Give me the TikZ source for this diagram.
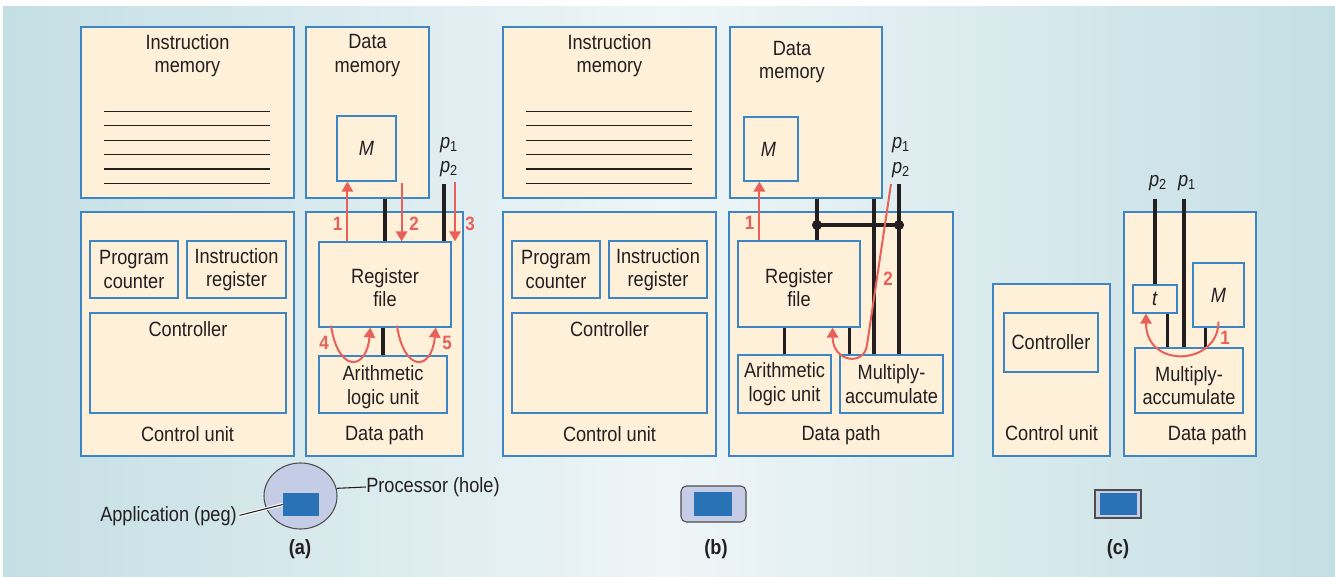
\documentclass[tikz,border=0pt]{standalone}
\usepackage{fontspec}
\setmainfont{Liberation Sans}[FakeStretch=0.88, BoldFont={Liberation Sans Bold}, ItalicFont={Liberation Sans Italic}]
\usepackage{tikz}
\usetikzlibrary{positioning,fit,calc,arrows.meta,shapes.geometric}

\definecolor{bgside}{HTML}{C4DFE4}
\definecolor{bgmid}{HTML}{EEF5F7}
\definecolor{boxfill}{HTML}{FFF0D9}
\definecolor{boxline}{HTML}{3D86C6}
\definecolor{flowred}{HTML}{E8605A}
\definecolor{ink}{HTML}{231F20}
\definecolor{holefill}{HTML}{C5CDE6}
\definecolor{pegblue}{HTML}{2A72B6}

\newcommand{\boxfont}{\fontsize{15.5}{17.5}\selectfont}
\newcommand{\numfont}{\bfseries\fontsize{14.5}{14.5}\selectfont}
\newcommand{\tagfont}{\bfseries\fontsize{15.5}{15.5}\selectfont}

\begin{document}
\begin{tikzpicture}[x=0.75pt, y=-0.75pt,
    unit/.style={draw=boxline, fill=boxfill, line width=0.9pt, inner sep=0pt},
    txt/.style={text=ink, font=\boxfont, align=center, inner sep=0pt},
    num/.style={text=flowred, font=\numfont, inner sep=0pt},
    bus/.style={draw=ink, line width=2.6pt},
    flow/.style={draw=flowred, line width=1.5pt, -{Triangle[length=7.5pt, width=8.5pt]}},
    listline/.style={draw=ink, line width=0.8pt},
    hole/.style={draw=ink!80, fill=holefill, line width=0.8pt, inner sep=0pt},
    peg/.style={fill=pegblue, inner sep=0pt},
    tag/.style={text=ink, font=\tagfont, inner sep=0pt}]

\useasboundingbox (0,0) rectangle (1335,577);
\shade[left color=bgside, right color=bgside, middle color=bgmid] (3,7) rectangle (1335,577);

% (a) general purpose processor
\node[unit, fit={(81,27) (294,198)}] (imemA) {};
\node[unit, fit={(306,27) (429,198)}] (dmemA) {};
\node[unit, fit={(337,116) (396,181)}] (mA) {};
\node[unit, fit={(81,212) (294,456)}] (cuA) {};
\node[unit, fit={(90,241) (178,298)}] (pcA) {};
\node[unit, fit={(187,241) (286,298)}] (irA) {};
\node[unit, fit={(90,313) (286,413)}] (ctrlA) {};
\node[unit, fit={(306,212) (463,456)}] (dpA) {};
\node[unit, fit={(319,242) (451,327)}] (rfA) {};
\node[unit, fit={(319,356) (447,413)}] (aluA) {};

\node[txt, below=6pt of imemA.north] (imemAT) {Instruction\\memory};
\node[txt, below=6pt of dmemA.north] (dmemAT) {Data\\memory};
\node[txt] (mAT) at (mA) {\textit{M}};
\node[txt] (pcAT) at (pcA) {Program\\counter};
\node[txt] (irAT) at (irA) {Instruction\\register};
\node[txt, below=6.5pt of ctrlA.north] (ctrlAT) {Controller};
\node[txt, anchor=base] (cuAT) at ([yshift=11.5pt]cuA.south) {Control unit};
\node[txt, yshift=-2.5pt] (rfAT) at (rfA) {Register\\file};
\node[txt, yshift=-2pt] (aluAT) at (aluA) {Arithmetic\\logic unit};
\node[txt, anchor=base] (dpAT) at ([yshift=12pt]dpA.south) {Data path};
\node[txt] (pA1) at (449,145) {\textit{p}\textsubscript{1}};
\node[txt] (pA2) at (449,169) {\textit{p}\textsubscript{2}};

\coordinate (busA) at (444,184);
\draw[bus] (rfA.north) -- (rfA.north |- dmemA.south);
\draw[bus] (busA) -- (busA |- rfA.north);
\draw[bus] (aluA.north) -- (aluA.north |- rfA.south);

\draw[flow] (rfA.north west) ++(29,0) coordinate (upA) -- (upA |- mA.south)
  node[num, pos=0.3, left=3pt] (n1A) {1};
\draw[flow] (mA.south east) ++(5,1) coordinate (dnA) -- (dnA |- rfA.north)
  node[num, pos=0.7, right=5pt] (n2A) {2};
\draw[flow] (busA) ++(11,-2) coordinate (inA) -- (inA |- rfA.north)
  node[num, pos=0.7, right=7pt] (n3A) {3};
\draw[flow] ([xshift=-40.5pt, yshift=1.5pt]rfA.south) .. controls +(7,47) and +(-4,44) .. ([xshift=-11pt]rfA.south);
\draw[flow] ([xshift=9pt, yshift=1.5pt]rfA.south) .. controls +(7,47) and +(-4,44) .. ([xshift=38pt]rfA.south);
\node[num] (n4A) at (324,343) {4};
\node[num] (n5A) at (447,343) {5};

% (b) processor with multiply-accumulate
\node[unit, fit={(503,27) (716,198)}] (imemB) {};
\node[unit, fit={(730,27) (882,198)}] (dmemB) {};
\node[unit, fit={(744,117) (798,181)}] (mB) {};
\node[unit, fit={(503,212) (716,456)}] (cuB) {};
\node[unit, fit={(512,241) (600,298)}] (pcB) {};
\node[unit, fit={(609,241) (707,298)}] (irB) {};
\node[unit, fit={(512,313) (707,413)}] (ctrlB) {};
\node[unit, fit={(729,212) (953,456)}] (dpB) {};
\node[unit, fit={(738,241) (860,327)}] (rfB) {};
\node[unit, fit={(738,355) (831,413)}] (aluB) {};
\node[unit, fit={(840,355) (943,413)}] (macB) {};

\foreach \m in {imemA,imemB}
  \foreach \k in {0,...,5}
    \draw[listline] (\m.north west) ++(24,{85+14.4*\k}) -- ++(166,0);

\node[txt, below=6pt of imemB.north] (imemBT) {Instruction\\memory};
\node[txt, below=11pt of dmemB.north, xshift=-10.5pt] (dmemBT) {Data\\memory};
\node[txt, xshift=-2pt] (mBT) at (mB) {\textit{M}};
\node[txt] (pcBT) at (pcB) {Program\\counter};
\node[txt] (irBT) at (irB) {Instruction\\register};
\node[txt, below=6.5pt of ctrlB.north] (ctrlBT) {Controller};
\node[txt, anchor=base] (cuBT) at ([yshift=11.5pt]cuB.south) {Control unit};
\node[txt, yshift=-2.5pt] (rfBT) at (rfB) {Register\\file};
\node[txt] (aluBT) at (aluB) {Arithmetic\\logic unit};
\node[txt] (macBT) at (macB) {Multiply-\\accumulate};
\node[txt, anchor=base] (dpBT) at ([yshift=12pt]dpB.south) {Data path};
\node[txt] (pB1) at (901,145) {\textit{p}\textsubscript{1}};
\node[txt] (pB2) at (901,170) {\textit{p}\textsubscript{2}};

\coordinate (busB) at (899,184);
\coordinate (jB1) at (817,225);
\coordinate (jB2) at (874,225);
\draw[bus] (jB1 |- dmemB.south) -- (jB1 |- rfB.north);
\draw[bus] (jB2 |- dmemB.south) -- (jB2 |- macB.north);
\draw[bus] (busB) -- (busB |- macB.north);
\draw[bus] (jB1) -- (busB |- jB1);
\fill[ink] (jB1) circle[radius=3.8pt] (busB |- jB1) circle[radius=3.8pt];
\draw[bus] (aluB.north) -- (aluB.north |- rfB.south);
\draw[bus] (macB.north west) ++(10,0) coordinate (rmB) -- (rmB |- rfB.south);

\draw[flow] (rfB.north west) ++(22,0) coordinate (upB) -- (upB |- mB.south)
  node[num, pos=0.3, left=3pt] (n1B) {1};
\draw[flow] (busB) ++(-8,0) -- (867,345) .. controls +(-3,22) and +(0,34) .. ([xshift=-21pt]rfB.south east);
\node[num] (n2B) at (888,279) {2};

% (c) application-specific processor
\node[unit, fit={(993,284) (1110,456)}] (cuC) {};
\node[unit, fit={(1004,313) (1098,372)}] (ctrlC) {};
\node[unit, fit={(1124,212) (1256,456)}] (dpC) {};
\node[unit, fit={(1133,285) (1177,313)}] (tC) {};
\node[unit, fit={(1193,263) (1244,327)}] (mC) {};
\node[unit, fit={(1135,348) (1243,413)}] (macC) {};

\node[txt] (ctrlCT) at (ctrlC) {Controller};
\node[txt] (tCT) at (tC) {\textit{t}};
\node[txt] (mCT) at (mC) {\textit{M}};
\node[txt, yshift=-4pt] (macCT) at (macC) {Multiply-\\accumulate};
\node[txt, anchor=base] (cuCT) at ([yshift=12pt]cuC.south) {Control unit};
\node[txt, anchor=base] (dpCT) at ([xshift=13pt, yshift=12pt]dpC.south) {Data path};
\node[txt] (pC2) at (1158,183) {\textit{p}\textsubscript{2}};
\node[txt] (pC1) at (1187,183) {\textit{p}\textsubscript{1}};

\coordinate (busC) at (1184,199);
\draw[bus] (tC.north) -- (tC.north |- busC);
\draw[bus] (busC) -- (busC |- macC.north);
\draw[bus] (tC.south east) ++(-10,0) coordinate (tmC) -- (tmC |- macC.north);
\draw[bus] (mC.south west) ++(13,0) coordinate (mmC) -- (mmC |- macC.north);
\draw[flow] ([yshift=4.5pt]mC.south) .. controls +(0,44) and +(0,56) .. ([xshift=-6.75pt]tC.south);
\node[num] (n1C) at (1225,338) {1};

% pegs and holes
\node[hole, ellipse, minimum width=54.75pt, minimum height=49.5pt] (holeA) at (300.5,496) {};
\node[peg, minimum width=27pt, minimum height=17.25pt] (pegA) at (301,504.5) {};
\node[txt, anchor=west] (procL) at (366,487) {Processor (hole)};
\node[txt, anchor=east] (appL) at (237,516) {Application (peg)};
\draw[ink, line width=0.8pt] (holeA.12) -- (procL.west);
\draw[ink, line width=0.8pt, shorten <=2pt, preaction={draw=white, line width=2.4pt, shorten <=2pt}] (appL.east) -- (pegA.west);

\node[hole, rounded corners=4pt, minimum width=48.75pt, minimum height=27pt] (holeB) at (713.5,504) {};
\node[peg, minimum width=28.5pt, minimum height=18pt] (pegB) at (713,504) {};
\node[hole, minimum width=34.5pt, minimum height=21pt] (holeC) at (1118,504) {};
\node[peg, minimum width=27.75pt, minimum height=16.5pt] (pegC) at (1118,504) {};

\node[tag] (capA) at (300,549) {(a)};
\node[tag] (capB) at (716,549) {(b)};
\node[tag] (capC) at (1118,549) {(c)};
\end{tikzpicture}
\end{document}
